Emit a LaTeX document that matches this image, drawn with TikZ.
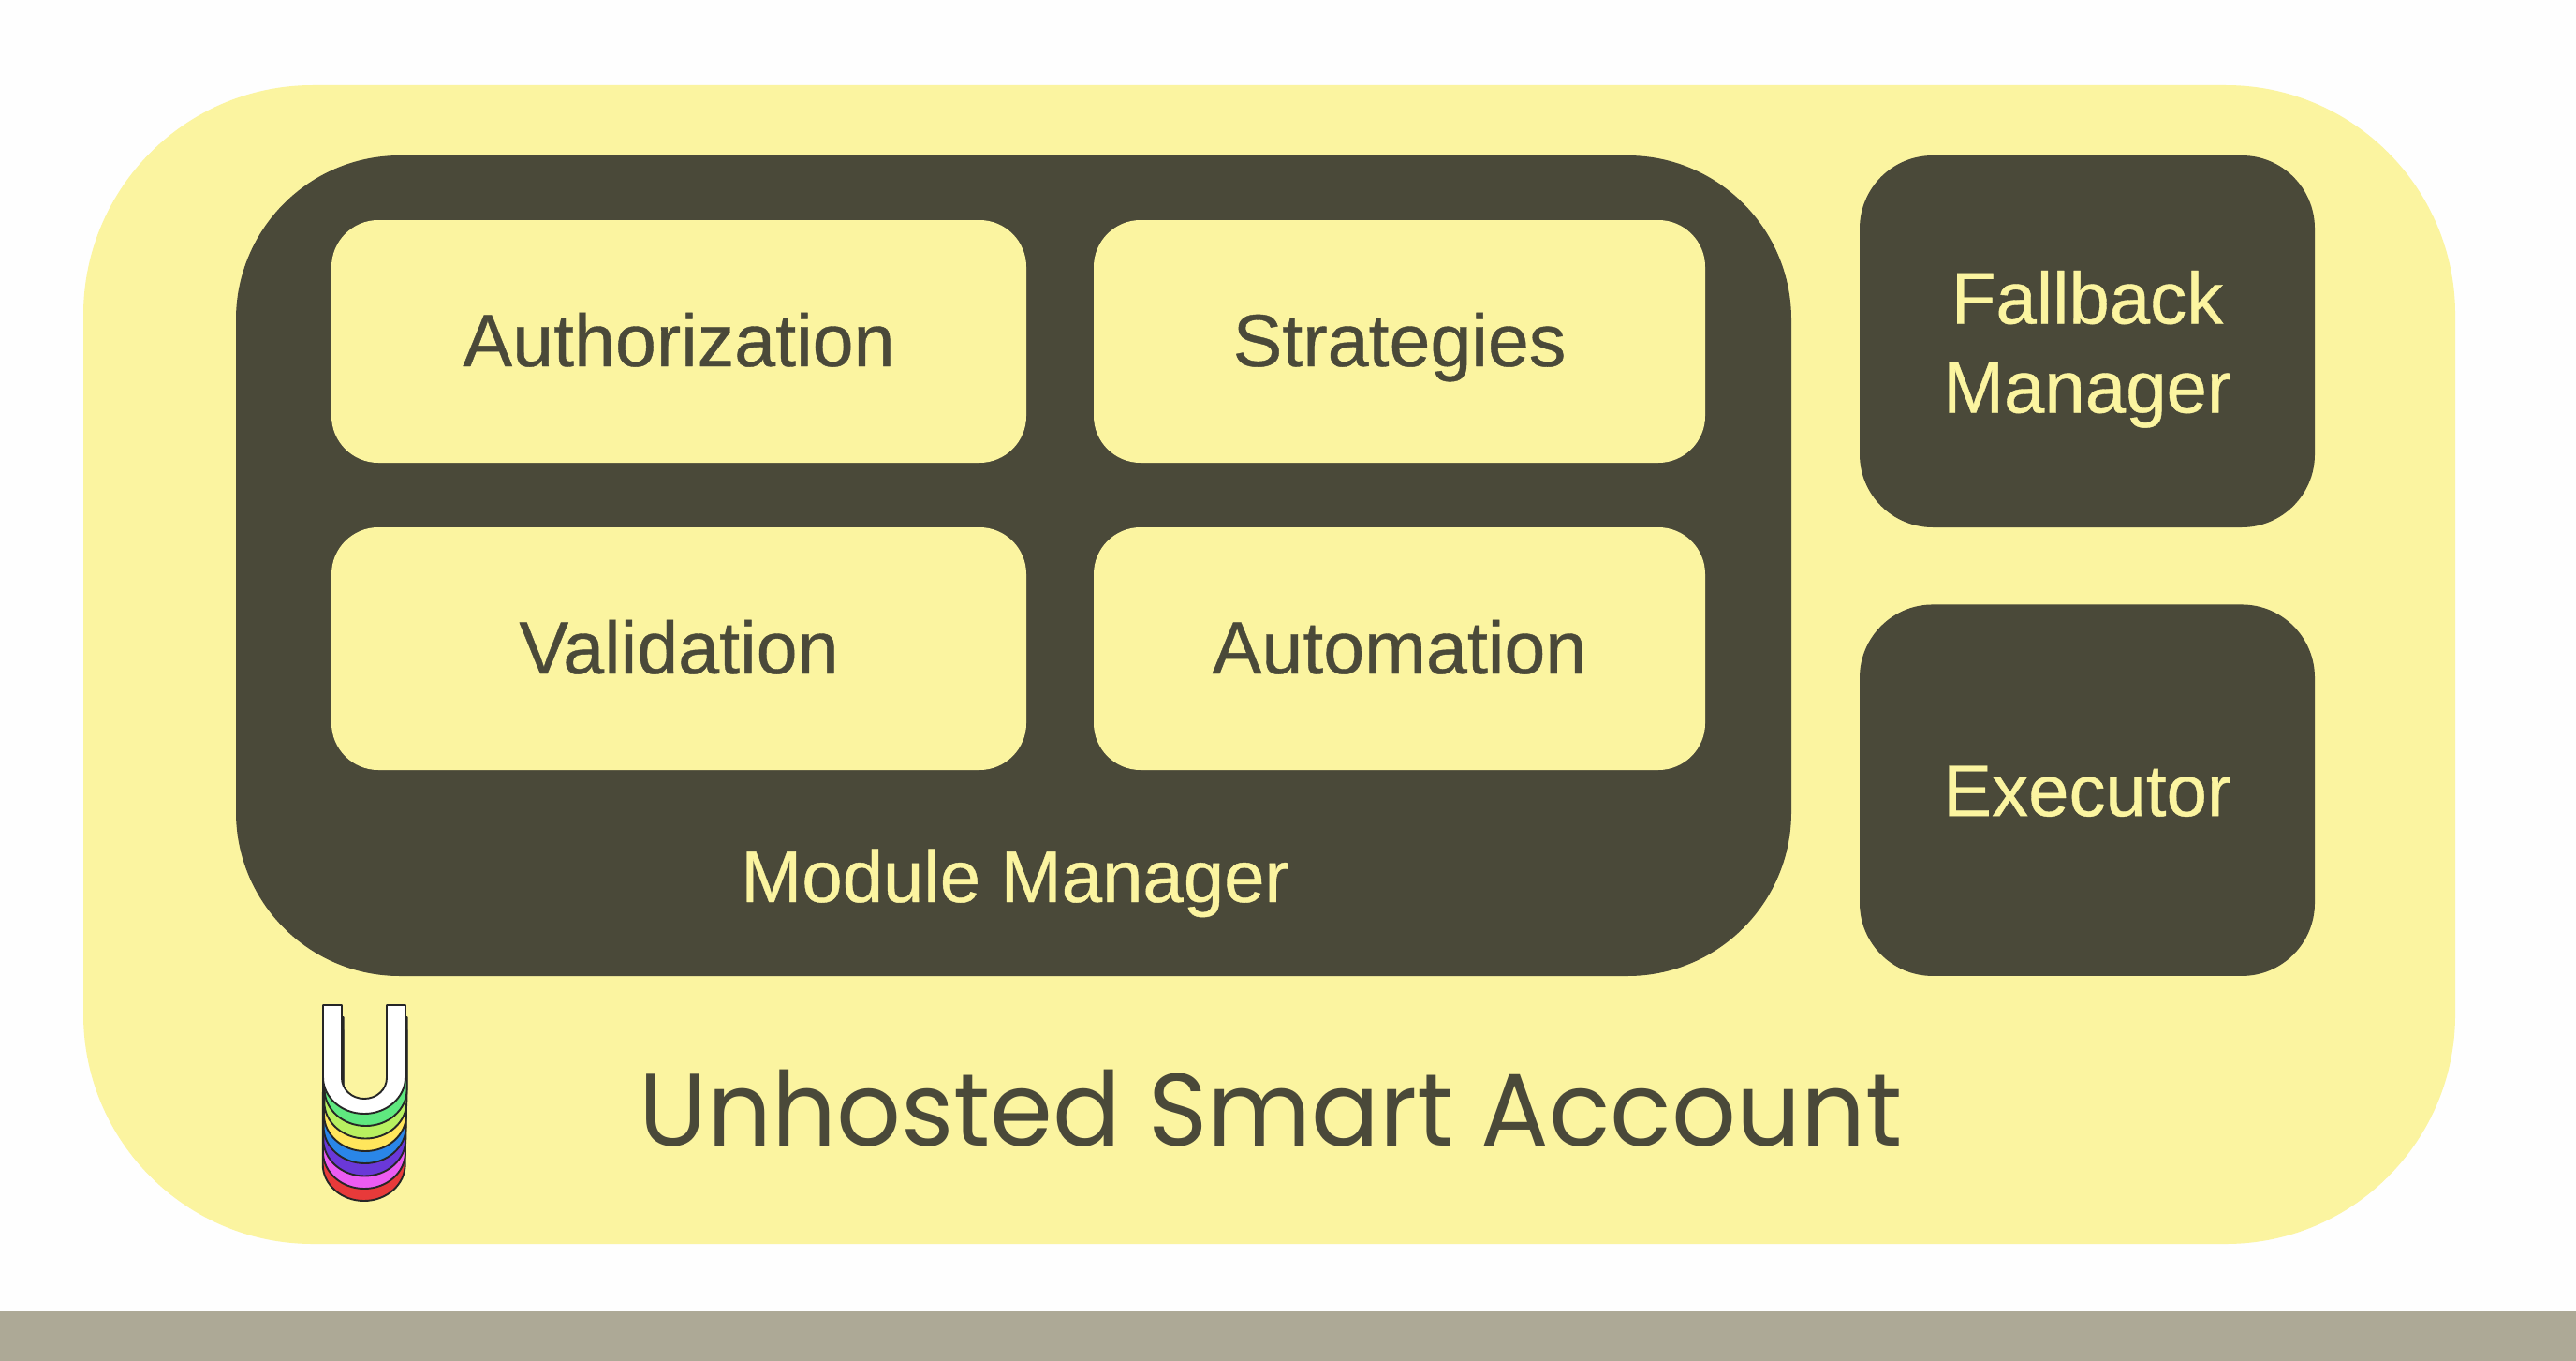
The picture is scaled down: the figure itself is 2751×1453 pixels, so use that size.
\documentclass[tikz,border=0pt]{standalone}
\usepackage{fontspec}
\setmainfont[FakeBold=0.5]{Liberation Sans}
\newfontfamily\titlefont[FakeStretch=0.98]{Poppins}
\definecolor{paper}{HTML}{FEFEFE}
\definecolor{cream}{HTML}{FBF4A0}
\definecolor{bark}{HTML}{4A4939}
\definecolor{band}{HTML}{ADA996}
\definecolor{lyA}{HTML}{E83A3A}
\definecolor{lyB}{HTML}{EC5CF2}
\definecolor{lyC}{HTML}{6A38D8}
\definecolor{lyD}{HTML}{2A86E8}
\definecolor{lyE}{HTML}{FFE65C}
\definecolor{lyF}{HTML}{B8F060}
\definecolor{lyG}{HTML}{5FE87F}
\tikzset{
  panel/.style={inner sep=0pt,outer sep=0pt,align=center,font=\fontsize{78}{95}\selectfont},
  inbox/.style={panel,font=\fontsize{79}{95}\selectfont,fill=cream,text=bark,rounded corners=50pt,minimum width=#1,minimum height=259pt,text height=53pt,text depth=0pt},
  darkbox/.style={panel,fill=bark,text=cream,rounded corners=78pt,minimum width=486pt,minimum height=#1},
  ulayer/.style={fill=#1,draw=black!85,line width=1.9pt,line join=round}
}
\newcommand{\ushape}{(345,1073) -- (365,1073) -- (365,1151) arc[start angle=180,end angle=0,x radius=24,y radius=22] -- (413,1073) -- (433,1073) -- (433,1150) arc[start angle=0,end angle=180,x radius=44,y radius=39] -- cycle}
\begin{document}
\begin{tikzpicture}[x=1pt,y=-1pt]
\useasboundingbox (0,0) rectangle (2751,1453);
\fill[paper] (0,0) rectangle (2751,1453);
\node[panel,fill=band,minimum width=2751pt,minimum height=53pt] (bandbar) at (1375.5,1426.5) {};
\node[panel,fill=cream,rounded corners=245pt,minimum width=2533pt,minimum height=1237pt] (account) at (1355.5,709.5) {};
\node[panel,fill=bark,rounded corners=175pt,minimum width=1661pt,minimum height=876pt] (manager) at (1082.5,604) {};
\node[inbox=742pt] (auth) at (725,364.5) {Authorization};
\node[inbox=653pt] (strat) at (1494.5,364.5) {Strategies};
\node[inbox=742pt] (valid) at (725,692.5) {Validation};
\node[inbox=653pt] (autom) at (1494.5,692.5) {Automation};
\node[panel,text=cream,anchor=base] (mmlabel) at (1084,963) {Module Manager};
\node[darkbox=397pt] (fallback) at (2229,364.5) {\rule{0pt}{80pt}Fallback\\Manager\rule[-23pt]{0pt}{23pt}};
\node[darkbox=396.5pt,text height=55pt,text depth=0pt] (executor) at (2229,843.7) {Executor};
\begin{scope}[shift={(-0.3,93)}]\path[ulayer=lyA] \ushape;\end{scope}
\begin{scope}[shift={(0,80)}]\path[ulayer=lyB] \ushape;\end{scope}
\begin{scope}[shift={(0.3,66.5)}]\path[ulayer=lyC] \ushape;\end{scope}
\begin{scope}[shift={(0.6,53)}]\path[ulayer=lyD] \ushape;\end{scope}
\begin{scope}[shift={(1,40)}]\path[ulayer=lyE] \ushape;\end{scope}
\begin{scope}[shift={(1.3,26.5)}]\path[ulayer=lyF] \ushape;\end{scope}
\begin{scope}[shift={(1.6,13)}]\path[ulayer=lyG] \ushape;\end{scope}
\path[ulayer=white] \ushape;
\node[panel,text=bark,font=\titlefont\fontsize{110}{130}\selectfont,anchor=base] (title) at (1357,1223) {Unhosted Smart Account};
\end{tikzpicture}
\end{document}
